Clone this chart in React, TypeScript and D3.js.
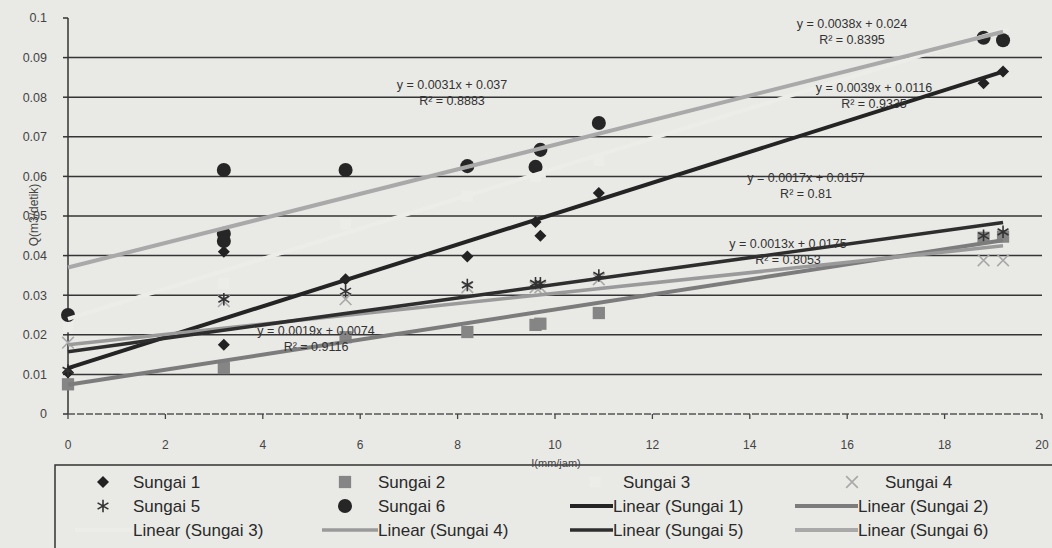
import * as d3 from "d3";

// rainfall intensity I (mm/jam) vs discharge Q (m3/detik), six rivers
const seriesNames = ["Sungai 1", "Sungai 2", "Sungai 3", "Sungai 4", "Sungai 5", "Sungai 6"];

const s1x = [0, 3.2, 3.2, 5.7, 8.2, 9.6, 9.7, 10.9, 18.8, 19.2];
const s1y = [0.0105, 0.0175, 0.041, 0.034, 0.0398, 0.0485, 0.045, 0.0558, 0.0835, 0.0865];
const s2x = [0, 3.2, 5.7, 8.2, 9.6, 9.7, 10.9, 18.8, 19.2];
const s2y = [0.0075, 0.0116, 0.0194, 0.0207, 0.0225, 0.0228, 0.0255, 0.0445, 0.0448];
const s3x = [0, 3.2, 5.7, 8.2, 9.6, 9.7, 10.9, 18.8, 19.2];
const s3y = [0.022, 0.033, 0.048, 0.055, 0.06, 0.061, 0.064, 0.095, 0.096];
const s4x = [0, 3.2, 5.7, 8.2, 9.6, 9.7, 10.9, 18.8, 19.2];
const s4y = [0.018, 0.0285, 0.029, 0.032, 0.032, 0.032, 0.034, 0.0388, 0.0388];
const s5x = [0, 3.2, 5.7, 8.2, 9.6, 9.7, 10.9, 18.8, 19.2];
const s5y = [0.011, 0.029, 0.031, 0.0326, 0.033, 0.033, 0.035, 0.045, 0.046];
const s6x = [0, 3.2, 3.2, 3.2, 5.7, 8.2, 9.6, 9.7, 10.9, 18.8, 19.2];
const s6y = [0.025, 0.0616, 0.0455, 0.0437, 0.0616, 0.0626, 0.0624, 0.0667, 0.0735, 0.095, 0.0944];

// trendline coefficients as printed on the chart
const slopes = [0.0039, 0.0019, 0.0038, 0.0013, 0.0017, 0.0031];
const intercepts = [0.0116, 0.0074, 0.024, 0.0175, 0.0157, 0.037];
const eqLabels = [
  "y = 0.0039x + 0.0116",
  "y = 0.0019x + 0.0074",
  "y = 0.0038x + 0.024",
  "y = 0.0013x + 0.0175",
  "y = 0.0017x + 0.0157",
  "y = 0.0031x + 0.037",
];
const r2Labels = ["R² = 0.9335", "R² = 0.9116", "R² = 0.8395", "R² = 0.8053", "R² = 0.81", "R² = 0.8883"];

const xTicks = [0, 2, 4, 6, 8, 10, 12, 14, 16, 18, 20];
const yTicks = [0, 0.01, 0.02, 0.03, 0.04, 0.05, 0.06, 0.07, 0.08, 0.09, 0.1];

const W = 1052;
const H = 548;
const FONT = "'Liberation Sans', Arial, sans-serif";
const BG = "#e9e9e6";
const PALE = "#ecece9"; // series 3 is white, almost lost on the paper

const x = d3.scaleLinear().domain([0, 20]).range([68, 1042]);
const y = d3.scaleLinear().domain([0, 0.1]).range([414, 18]);

const xs = [s1x, s2x, s3x, s4x, s5x, s6x];
const ys = [s1y, s2y, s3y, s4y, s5y, s6y];

const markerStyle = [
  { type: d3.symbolDiamond2, size: 92, fill: "#222", stroke: "none" },
  { type: d3.symbolSquare, size: 150, fill: "#858585", stroke: "none" },
  { type: d3.symbolSquare, size: 120, fill: PALE, stroke: "none" },
  { type: d3.symbolTimes, size: 90, fill: "none", stroke: "#a8a8a8" },
  { type: d3.symbolAsterisk, size: 110, fill: "none", stroke: "#333" },
  { type: d3.symbolCircle, size: 155, fill: "#262626", stroke: "none" },
];
const lineStyle = [
  { color: "#242424", width: 4 },
  { color: "#7c7c7c", width: 4 },
  { color: PALE, width: 4 },
  { color: "#9a9a9a", width: 3.5 },
  { color: "#2e2e2e", width: 3.5 },
  { color: "#a9a9a9", width: 4 },
];
// label placement (centre x, first line y)
const eqPos = [
  [874, 92],
  [316, 335],
  [852, 28],
  [788, 248],
  [806, 182],
  [452, 89],
];

const legendRows = [
  [
    { kind: "marker", s: 0, label: "Sungai 1" },
    { kind: "marker", s: 1, label: "Sungai 2" },
    { kind: "marker", s: 2, label: "Sungai 3" },
    { kind: "marker", s: 3, label: "Sungai 4" },
  ],
  [
    { kind: "marker", s: 4, label: "Sungai 5" },
    { kind: "marker", s: 5, label: "Sungai 6" },
    { kind: "line", s: 0, label: "Linear (Sungai 1)" },
    { kind: "line", s: 1, label: "Linear (Sungai 2)" },
  ],
  [
    { kind: "line", s: 2, label: "Linear (Sungai 3)" },
    { kind: "line", s: 3, label: "Linear (Sungai 4)" },
    { kind: "line", s: 4, label: "Linear (Sungai 5)" },
    { kind: "line", s: 5, label: "Linear (Sungai 6)" },
  ],
];
const legendTextX = [
  [133, 378, 623, 885],
  [133, 378, 613, 858],
  [133, 378, 613, 858],
];
const legendLineX = [75, 322, 570, 795];
const legendMarkerX = [103, 345, 595, 852];
const legendRowY = [482, 506, 530];

function symbolPath(i: number) {
  const m = markerStyle[i];
  return d3.symbol().type(m.type).size(m.size)() || "";
}

function Marker({ i, cx, cy }: { i: number; cx: number; cy: number }) {
  const m = markerStyle[i];
  return (
    <path
      d={symbolPath(i)}
      transform={`translate(${cx},${cy})`}
      fill={m.fill}
      stroke={m.stroke}
      strokeWidth={1.6}
    />
  );
}

export default function App() {
  return (
    <svg
      width={W}
      height={H}
      style={{ position: "absolute", left: 0, top: 0, background: BG }}
      fontFamily={FONT}
    >
      {/* gridlines */}
      {yTicks.slice(1, -1).map((t) => (
        <line key={t} x1={x(0)} x2={x(20)} y1={y(t)} y2={y(t)} stroke="#353535" strokeWidth={1.5} />
      ))}
      {/* axes */}
      <line x1={x(0)} x2={x(0)} y1={y(0.1)} y2={y(0)} stroke="#333" strokeWidth={1.5} />
      <line x1={x(0)} x2={x(20)} y1={y(0)} y2={y(0)} stroke="#555" strokeWidth={1.5} strokeDasharray="7,2" />
      {yTicks.map((t) => (
        <g key={t}>
          <line x1={x(0) - 5} x2={x(0)} y1={y(t)} y2={y(t)} stroke="#333" strokeWidth={1.5} />
          <text x={47} y={y(t)} dy="0.35em" textAnchor="end" fontSize={12.5} fill="#444">
            {+t.toFixed(2)}
          </text>
        </g>
      ))}
      {xTicks.map((t) => (
        <g key={t}>
          <line x1={x(t)} x2={x(t)} y1={y(0)} y2={y(0) + 5} stroke="#444" strokeWidth={1.3} />
          <text x={x(t)} y={445} dy="0.35em" textAnchor="middle" fontSize={12} fill="#444">
            {t}
          </text>
        </g>
      ))}
      <text
        transform={`translate(34,215) rotate(-90)`}
        textAnchor="middle"
        dy="0.35em"
        fontSize={12}
        fill="#444"
      >
        Q(m3/detik)
      </text>

      {/* data points */}
      {xs.map((sx, i) => (
        <g key={"m" + i}>
          {sx.map((v, j) => (
            <Marker key={j} i={i} cx={x(v)} cy={y(ys[i][j])} />
          ))}
        </g>
      ))}

      {/* trendlines over the data range */}
      {slopes.map((b, i) => {
        const x0 = d3.min(xs[i]) as number;
        const x1 = d3.max(xs[i]) as number;
        const path = d3
          .line<number>()
          .x((d) => x(d))
          .y((d) => y(intercepts[i] + b * d))([x0, x1]);
        return (
          <path
            key={"t" + i}
            d={path || ""}
            fill="none"
            stroke={lineStyle[i].color}
            strokeWidth={lineStyle[i].width}
          />
        );
      })}

      {/* equation labels */}
      {eqLabels.map((t, i) => (
        <g key={"e" + i} fontSize={12.5} fill="#333" textAnchor="middle">
          <text x={eqPos[i][0]} y={eqPos[i][1]}>
            {t}
          </text>
          <text x={eqPos[i][0]} y={eqPos[i][1] + 16}>
            {r2Labels[i]}
          </text>
        </g>
      ))}

      {/* legend */}
      <rect x={55} y={465} width={W} height={H} fill={BG} stroke="#333" strokeWidth={1.5} />
      {legendRows.map((row, r) =>
        row.map((item, c) => (
          <g key={`l${r}-${c}`}>
            {item.kind === "marker" ? (
              <Marker i={item.s} cx={legendMarkerX[c]} cy={legendRowY[r]} />
            ) : (
              <line
                x1={legendLineX[c]}
                x2={legendTextX[r][c]}
                y1={legendRowY[r]}
                y2={legendRowY[r]}
                stroke={lineStyle[item.s].color}
                strokeWidth={lineStyle[item.s].width}
              />
            )}
            <text x={legendTextX[r][c]} y={legendRowY[r]} dy="0.35em" fontSize={17} fill="#2a2a2a">
              {item.label}
            </text>
          </g>
        ))
      )}
      <text x={556} y={463} dy="0.35em" textAnchor="middle" fontSize={11} fill="#444">
        I(mm/jam)
      </text>
    </svg>
  );
}
